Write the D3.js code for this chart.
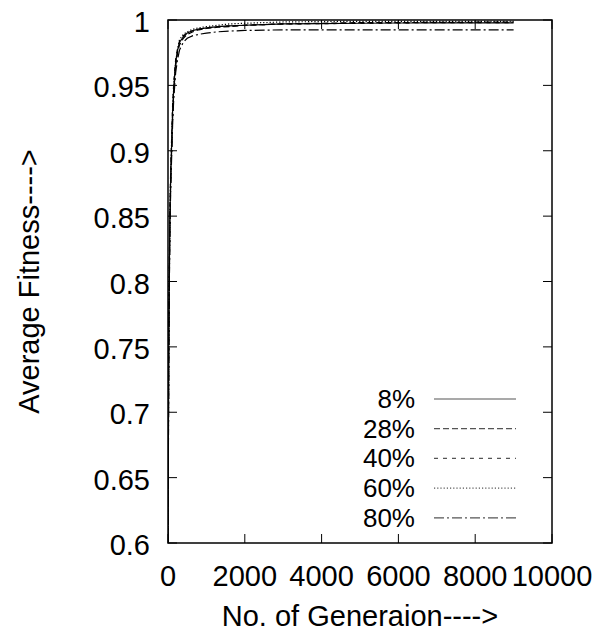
<!DOCTYPE html>
<html>
<head>
<meta charset="utf-8">
<script src="https://cdn.jsdelivr.net/npm/d3@7"></script>
<style>
  body { margin: 0; background: #fff; }
  text { font-family: "Liberation Sans", Arial, Helvetica, sans-serif; fill: #000; }
</style>
</head>
<body>
<div id="chart"></div>
<script>
// generations sampled for every run
var generations = [0, 10, 20, 35, 50, 70, 90, 120, 150, 200, 250, 300, 400, 500, 650, 800,
                   1000, 1300, 1600, 2000, 2500, 3000, 4000, 5000, 6000, 7000, 8000, 9000];

var fit8  = [0.60, 0.68, 0.75, 0.81, 0.85, 0.88, 0.90, 0.93, 0.948, 0.968, 0.977, 0.983, 0.987, 0.990, 0.992, 0.993,
             0.994, 0.995, 0.9955, 0.996, 0.9965, 0.997, 0.9972, 0.9975, 0.9977, 0.9978, 0.9978, 0.9978];
var fit28 = [0.60, 0.67, 0.74, 0.80, 0.84, 0.875, 0.895, 0.925, 0.945, 0.965, 0.975, 0.981, 0.986, 0.989, 0.991, 0.9925,
             0.9935, 0.9945, 0.995, 0.996, 0.9965, 0.997, 0.9975, 0.998, 0.998, 0.9982, 0.9983, 0.9983];
var fit40 = [0.61, 0.69, 0.76, 0.815, 0.855, 0.885, 0.905, 0.935, 0.952, 0.970, 0.978, 0.984, 0.988, 0.990, 0.992, 0.993,
             0.994, 0.995, 0.9955, 0.996, 0.9965, 0.997, 0.9972, 0.9975, 0.9978, 0.998, 0.998, 0.998];
var fit60 = [0.60, 0.68, 0.755, 0.81, 0.85, 0.882, 0.903, 0.932, 0.950, 0.968, 0.978, 0.985, 0.989, 0.991, 0.993, 0.994,
             0.995, 0.996, 0.997, 0.9975, 0.998, 0.9985, 0.9988, 0.999, 0.999, 0.999, 0.999, 0.999];
var fit80 = [0.60, 0.67, 0.74, 0.80, 0.84, 0.87, 0.89, 0.92, 0.94, 0.96, 0.97, 0.977, 0.983, 0.986, 0.988, 0.989,
             0.990, 0.991, 0.9915, 0.992, 0.9922, 0.9925, 0.9925, 0.9925, 0.9925, 0.9925, 0.9925, 0.9925];

var seriesNames = ["8%", "28%", "40%", "60%", "80%"];
var seriesValues = [fit8, fit28, fit40, fit60, fit80];
var dashes = [null, "6,3", "4,5", "1.2,2", "10,3,2,3"];

var xTicks = [0, 2000, 4000, 6000, 8000, 10000];
var yTicks = [0.6, 0.65, 0.7, 0.75, 0.8, 0.85, 0.9, 0.95, 1];

var W = 613, H = 635;
var margin = {top: 20, right: 61, bottom: 92, left: 168},
    width = W - margin.left - margin.right,
    height = H - margin.top - margin.bottom;

var svg = d3.select("#chart").append("svg")
    .attr("width", W).attr("height", H)
  .append("g")
    .attr("transform", "translate(" + margin.left + "," + margin.top + ")");

var x = d3.scaleLinear().domain([0, 10000]).range([0, width]);
var y = d3.scaleLinear().domain([0.6, 1]).range([height, 0]);

svg.append("clipPath").attr("id", "clip")
  .append("rect").attr("width", width).attr("height", height);

// ticks drawn inward on all four sides
var tl = 9;
xTicks.forEach(function(t){
    svg.append("line").attr("x1", x(t)).attr("x2", x(t)).attr("y1", height).attr("y2", height - tl)
        .attr("stroke", "#000").attr("stroke-width", 1);
    svg.append("line").attr("x1", x(t)).attr("x2", x(t)).attr("y1", 0).attr("y2", tl)
        .attr("stroke", "#000").attr("stroke-width", 1);
    svg.append("text").attr("x", x(t)).attr("y", height + 43)
        .attr("text-anchor", "middle").style("font-size", "29px").text(t);
});
yTicks.forEach(function(t){
    svg.append("line").attr("x1", 0).attr("x2", tl).attr("y1", y(t)).attr("y2", y(t))
        .attr("stroke", "#000").attr("stroke-width", 1);
    svg.append("line").attr("x1", width).attr("x2", width - tl).attr("y1", y(t)).attr("y2", y(t))
        .attr("stroke", "#000").attr("stroke-width", 1);
    svg.append("text").attr("x", -18).attr("y", y(t) + 12)
        .attr("text-anchor", "end").style("font-size", "29px").text(t);
});

// curves
var line = d3.line()
    .x(function(d){ return x(d[0]); })
    .y(function(d){ return y(d[1]); });

seriesValues.forEach(function(vals, i){
    var pts = generations.map(function(g, j){ return [g, vals[j]]; });
    svg.append("path")
        .attr("clip-path", "url(#clip)")
        .attr("d", line(pts))
        .attr("fill", "none")
        .attr("stroke", "#000")
        .attr("stroke-width", 1.2)
        .attr("stroke-dasharray", dashes[i]);
});

// legend
seriesNames.forEach(function(name, i){
    var ly = 379 + i * 29.7;
    svg.append("text").attr("x", 415 - margin.left).attr("y", ly + 9)
        .attr("text-anchor", "end").style("font-size", "26px").text(name);
    svg.append("line").attr("x1", 434 - margin.left).attr("x2", 516 - margin.left)
        .attr("y1", ly).attr("y2", ly)
        .attr("stroke", "#555").attr("stroke-width", 1.2)
        .attr("stroke-dasharray", dashes[i]);
});

// frame
svg.append("rect").attr("width", width).attr("height", height)
    .attr("fill", "none").attr("stroke", "#000").attr("stroke-width", 1.5);

// axis titles
svg.append("text").attr("x", width / 2).attr("y", 626 - margin.top)
    .attr("text-anchor", "middle").style("font-size", "29px").text("No. of Generaion---->");
svg.append("text")
    .attr("transform", "translate(" + (39 - margin.left) + "," + (height / 2) + ") rotate(-90)")
    .attr("text-anchor", "middle").style("font-size", "29px").text("Average Fitness---->");
</script>
</body>
</html>
